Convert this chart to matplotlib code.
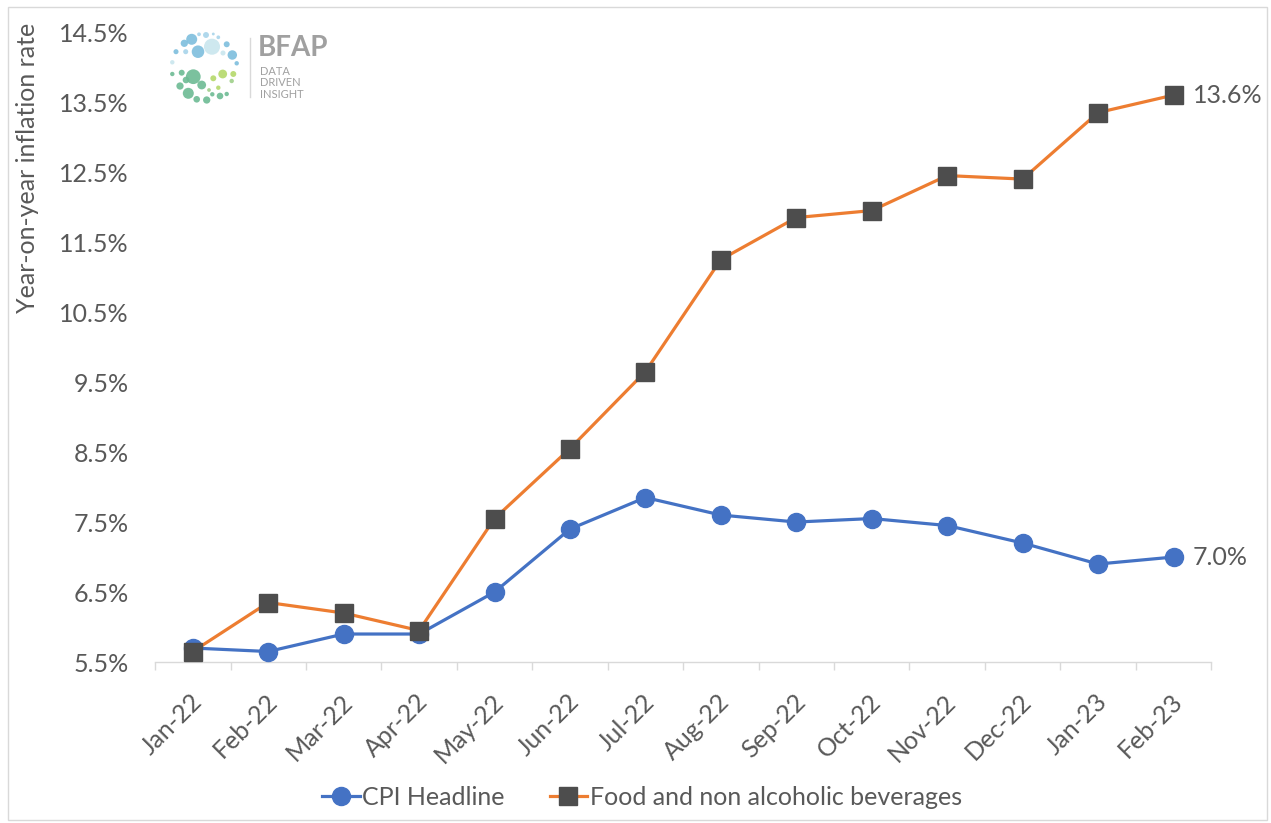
import matplotlib
matplotlib.use("Agg")
import matplotlib.pyplot as plt
import matplotlib.transforms as mtransforms
from matplotlib.patches import Circle, Rectangle

months = ["Jan-22", "Feb-22", "Mar-22", "Apr-22", "May-22", "Jun-22", "Jul-22",
          "Aug-22", "Sep-22", "Oct-22", "Nov-22", "Dec-22", "Jan-23", "Feb-23"]
cpi = [5.7, 5.65, 5.9, 5.9, 6.5, 7.4, 7.85, 7.6, 7.5, 7.55, 7.45, 7.2, 6.9, 7.0]
food = [5.65, 6.35, 6.2, 5.95, 7.55, 8.55, 9.65, 11.25, 11.85, 11.95, 12.45, 12.4, 13.35, 13.6]
yticks = [5.5, 6.5, 7.5, 8.5, 9.5, 10.5, 11.5, 12.5, 13.5, 14.5]

BLUE = "#4472C4"
ORANGE = "#ED7D31"
MARK = "#4D4D4D"
TXT = "#595959"
FS = 18

plt.rcParams["font.family"] = ["Lato", "DejaVu Sans"]

fig = plt.figure(figsize=(12.71, 8.23), dpi=100)
fig.patches.append(Rectangle((0.006, 0.004), 0.991, 0.988, transform=fig.transFigure,
                             fill=False, edgecolor="#D9D9D9", linewidth=1))
ax = fig.add_axes([0.122, 0.1956, 0.831, 0.7654])

x = list(range(len(months)))
ax.plot(x, cpi, color=BLUE, linewidth=2.3, marker="o", markersize=13,
        markerfacecolor=BLUE, markeredgecolor=BLUE, label="CPI Headline", zorder=3)
ax.plot(x, food, color=ORANGE, linewidth=2.3, marker="s", markersize=12.5,
        markerfacecolor=MARK, markeredgecolor=MARK,
        label="Food and non alcoholic beverages", zorder=4)

ax.annotate(f"{food[-1]:.1f}%", (x[-1], food[-1]), xytext=(14, 0), textcoords="offset points",
            va="center", ha="left", fontsize=FS, color=TXT)
ax.annotate(f"{cpi[-1]:.1f}%", (x[-1], cpi[-1]), xytext=(14, 0), textcoords="offset points",
            va="center", ha="left", fontsize=FS, color=TXT)

ax.set_xlim(-0.5, len(months) - 0.5)
ax.set_ylim(5.5, 14.5)
ax.set_yticks(yticks)
ax.set_yticklabels([f"{v:.1f}%" for v in yticks], fontsize=FS, color=TXT)
ax.tick_params(axis="y", length=0, pad=19)

ax.set_xticks(x)
ax.set_xticklabels(months, rotation=45, ha="right", rotation_mode="anchor",
                   fontsize=FS, color=TXT)
ax.tick_params(axis="x", which="major", length=0, pad=20)
shift = mtransforms.ScaledTranslation(-3 / 100, 0, fig.dpi_scale_trans)
for lbl in ax.get_xticklabels():
    lbl.set_transform(lbl.get_transform() + shift)
ax.set_xticks([i - 0.5 for i in range(len(months) + 1)], minor=True)
ax.tick_params(axis="x", which="minor", length=6, color="#D9D9D9", width=1)

for side in ["top", "right", "left"]:
    ax.spines[side].set_visible(False)
ax.spines["bottom"].set_color("#D9D9D9")
ax.spines["bottom"].set_linewidth(1)

ax.set_ylabel("Year-on-year inflation rate", fontsize=FS, color=TXT)
ax.yaxis.set_label_coords(-0.110, 0.785)

leg = fig.legend(loc="center", bbox_to_anchor=(0.505, 0.031), ncol=2, frameon=False,
                 fontsize=FS, handlelength=1.5, columnspacing=1.8, handletextpad=0.1)
for t in leg.get_texts():
    t.set_color(TXT)

# BFAP logo, drawn in pixel coordinates of the figure
lax = fig.add_axes([165 / 1271, 1 - 108 / 823, 80 / 1271, 80 / 823])
lax.set_xlim(165, 245)
lax.set_ylim(108, 28)
lax.axis("off")
dots = [
    (191.7, 39.3, 5.0, "#7DBEDD"), (212.0, 46.7, 7.3, "#C9E6EE"), (198.0, 51.7, 5.7, "#7DBEDD"),
    (184.3, 43.3, 3.3, "#7DBEDD"), (206.0, 35.0, 2.7, "#A8D4EA"), (199.0, 34.3, 1.7, "#A8D4EA"),
    (218.3, 37.3, 1.7, "#A8D4EA"), (226.7, 44.3, 2.7, "#7DBEDD"), (232.3, 55.0, 4.3, "#7DBEDD"),
    (176.0, 51.7, 2.3, "#7DBEDD"), (185.7, 51.7, 2.3, "#A8D4EA"), (172.3, 62.3, 2.0, "#C9E6EE"),
    (236.7, 63.3, 2.0, "#7DBEDD"), (213.3, 34.0, 1.3, "#A8D4EA"), (223.0, 53.0, 2.3, "#C9E6EE"),
    (193.3, 76.7, 6.7, "#6DBB94"), (188.3, 93.3, 5.0, "#6DBB94"), (201.7, 85.0, 4.0, "#6DBB94"),
    (181.7, 72.7, 2.7, "#6DBB94"), (172.3, 74.0, 2.0, "#6DBB94"), (180.0, 86.0, 3.3, "#6DBB94"),
    (196.7, 99.3, 3.0, "#6DBB94"), (206.7, 100.0, 3.3, "#6DBB94"), (212.3, 94.3, 2.0, "#6DBB94"),
    (220.0, 96.0, 3.0, "#6DBB94"), (226.7, 94.0, 2.0, "#6DBB94"), (186.0, 80.0, 3.0, "#6DBB94"),
    (222.7, 74.0, 4.0, "#B5D96A"), (213.3, 78.3, 2.7, "#B5D96A"), (233.3, 74.0, 2.7, "#B5D96A"),
    (231.7, 81.0, 2.0, "#9FD08A"), (218.3, 87.7, 2.0, "#B5D96A"), (209.0, 90.0, 1.7, "#9FD08A"),
]
for cx, cy, r, c in dots:
    lax.add_patch(Circle((cx, cy), r * 1.1, color=c, alpha=0.9, linewidth=0))
fig.add_artist(plt.Line2D([250 / 1271, 250 / 1271], [1 - 38 / 823, 1 - 97 / 823],
                          color="#D9D9D9", linewidth=1))
fig.text(258 / 1271, 1 - 48 / 823, "BFAP", fontsize=20, fontweight="bold",
         color="#A0A0A0", va="center")
fig.text(260 / 1271, 1 - 66 / 823, "DATA\nDRIVEN\nINSIGHT", fontsize=8, color="#A0A0A0",
         va="top", linespacing=1.05)

plt.savefig("out.png", dpi=100)
plt.close()
